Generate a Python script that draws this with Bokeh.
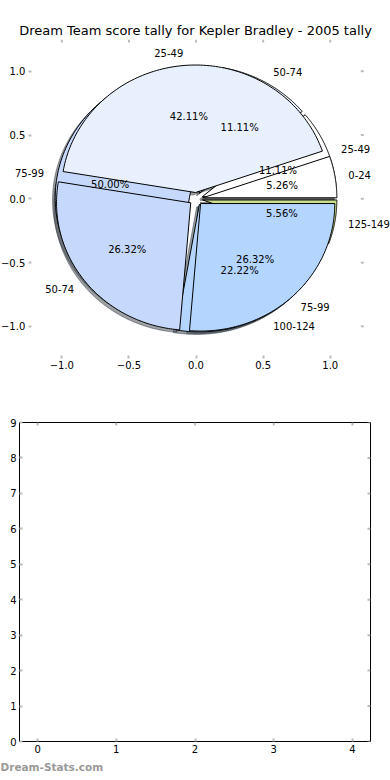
import numpy as np
from bokeh.plotting import figure
from bokeh.models import Range1d, LinearAxis, FixedTicker, LabelSet, ColumnDataSource, Title
from bokeh.embed import file_html
from bokeh.resources import INLINE
from bokeh.core.properties import value

# ---------------- data ----------------
title_text = "Dream Team score tally for Kepler Bradley - 2005 tally"
watermark_text = "Dream-Stats.com"

pie_a_labels = ["0-24", "25-49", "50-74", "75-99"]
pie_a_counts = [1, 8, 5, 5]

pie_b_labels = ["25-49", "50-74", "75-99", "100-124", "125-149"]
pie_b_counts = [2, 2, 9, 4, 1]

wedge_colors = ["#ffffff", "#e8f0fe", "#c6d9fd", "#b3d5fe", "#c8e08f"]
explode = 0.05
shadow_offset = -0.02

top_ticks = [-1.0, -0.5, 0.0, 0.5, 1.0]
top_tick_labels = ["\u22121.0", "\u22120.5", "0.0", "0.5", "1.0"]
pie_axes_limits = (-1.25, 1.25)          # the pie's axes box
top_x_range = (-1.457, 1.449)            # visible canvas span (labels overflow the axes box)
top_y_range = (-1.503, 1.25)

bottom_x_ticks = [0, 1, 2, 3, 4]
bottom_y_ticks = [0, 1, 2, 3, 4, 5, 6, 7, 8, 9]
bottom_x_range = (-0.23, 4.23)
bottom_y_range = (0, 9)

FONT = "DejaVu Sans"
TICK_COLOR = "#bbbbbb"


def pie_geometry(counts, expl, n=120):
    total = float(sum(counts))
    t1 = 0.0
    res = []
    for i, c in enumerate(counts):
        frac = c / total
        t2 = t1 + 360.0 * frac
        tm = np.deg2rad((t1 + t2) / 2.0)
        cx, cy = expl * np.cos(tm), expl * np.sin(tm)
        ang = np.deg2rad(np.linspace(t1, t2, n))
        xs = [cx] + list(cx + np.cos(ang)) + [cx]
        ys = [cy] + list(cy + np.sin(ang)) + [cy]
        res.append(dict(xs=xs, ys=ys, cx=cx, cy=cy, tm=tm, frac=frac, color=wedge_colors[i]))
        t1 = t2
    return res


def shadow_color(hexcol):
    r, g, b = (int(hexcol[k:k + 2], 16) for k in (1, 3, 5))
    return "#%02x%02x%02x" % (int(0.3 * r), int(0.3 * g), int(0.3 * b))


def make_axis(ticks, overrides=None, standoff=4):
    ax = LinearAxis(ticker=FixedTicker(ticks=ticks))
    ax.axis_line_color = None
    ax.major_tick_in = 3
    ax.major_tick_out = 0
    ax.major_tick_line_color = TICK_COLOR
    ax.major_tick_line_width = 2
    ax.minor_tick_line_color = None
    ax.major_label_text_font = FONT
    ax.major_label_text_font_size = "10px"
    ax.major_label_text_color = "black"
    ax.major_label_standoff = standoff
    if overrides is not None:
        ax.major_label_overrides = dict(zip(ticks, overrides))
    return ax


def inner_ticks(p, xs, ys, angle):
    p.ray(x=xs, y=ys, length=3, length_units="screen", angle=angle,
          line_color=TICK_COLOR, line_width=2)


# ---------------- top figure: two overlapping pies ----------------
p1 = figure(width=390, height=390, output_backend="svg", toolbar_location=None,
            x_range=Range1d(*top_x_range), y_range=Range1d(*top_y_range),
            x_axis_location=None, y_axis_location=None,
            min_border_left=0, min_border_right=0, min_border_top=39, min_border_bottom=0,
            title=title_text)
p1.grid.visible = False
p1.outline_line_color = None
p1.title.text_font = FONT
p1.title.text_font_size = "13px"
p1.title.text_font_style = "normal"
p1.title.text_color = "black"
p1.title.align = "center"
p1.title.standoff = 3

ax_l = make_axis(top_ticks, top_tick_labels, standoff=3)
ax_l.fixed_location = pie_axes_limits[0]
p1.add_layout(ax_l, "left")
ax_b = make_axis(top_ticks, top_tick_labels, standoff=3)
ax_b.fixed_location = pie_axes_limits[0]
p1.add_layout(ax_b, "below")
inner_ticks(p1, top_ticks, [pie_axes_limits[1]] * len(top_ticks), -np.pi / 2)
inner_ticks(p1, [pie_axes_limits[1]] * len(top_ticks), top_ticks, np.pi)

geo_a = pie_geometry(pie_a_counts, explode)
geo_b = pie_geometry(pie_b_counts, explode)

# shadows (below all wedges)
sh = dict(xs=[], ys=[], color=[])
for g in geo_b + geo_a:
    sh["xs"].append([x + shadow_offset for x in g["xs"]])
    sh["ys"].append([y + shadow_offset for y in g["ys"]])
    sh["color"].append(shadow_color(g["color"]))
p1.patches(xs="xs", ys="ys", source=ColumnDataSource(sh), fill_color="color", fill_alpha=0.5,
           line_color="color", line_alpha=0.5, line_width=1)

# wedges: pie B first, pie A on top
for geo in (geo_b, geo_a):
    src = ColumnDataSource(dict(xs=[g["xs"] for g in geo], ys=[g["ys"] for g in geo],
                                color=[g["color"] for g in geo]))
    p1.patches(xs="xs", ys="ys", source=src, fill_color="color", line_color="black", line_width=1)

# texts
groups = {"left": dict(x=[], y=[], text=[]), "right": dict(x=[], y=[], text=[]),
          "center": dict(x=[], y=[], text=[])}
for geo, labels in ((geo_b, pie_b_labels), (geo_a, pie_a_labels)):
    for g, lab in zip(geo, labels):
        xt = g["cx"] + 1.1 * np.cos(g["tm"])
        yt = g["cy"] + 1.1 * np.sin(g["tm"])
        d = groups["left" if xt > 0 else "right"]
        d["x"].append(xt); d["y"].append(yt); d["text"].append(lab)
        d = groups["center"]
        d["x"].append(g["cx"] + 0.6 * np.cos(g["tm"]))
        d["y"].append(g["cy"] + 0.6 * np.sin(g["tm"]))
        d["text"].append("%.2f%%" % (100 * g["frac"]))
for align, d in groups.items():
    p1.add_layout(LabelSet(x="x", y="y", text="text", source=ColumnDataSource(d),
                           text_align=align, text_baseline="middle", text_font=value(FONT),
                           text_font_size=value("10px"), text_color="black"))

# ---------------- bottom figure: empty axes ----------------
p2 = figure(width=390, height=390, output_backend="svg", toolbar_location=None,
            x_range=Range1d(*bottom_x_range), y_range=Range1d(*bottom_y_range),
            x_axis_location=None, y_axis_location=None,
            min_border_left=19, min_border_right=20, min_border_top=32, min_border_bottom=39)
p2.grid.visible = False
p2.outline_line_color = "black"
p2.outline_line_width = 1

p2.add_layout(make_axis(bottom_y_ticks, standoff=3), "left")
p2.add_layout(make_axis(bottom_x_ticks, standoff=3), "below")
inner_ticks(p2, bottom_x_ticks, [bottom_y_range[1]] * len(bottom_x_ticks), -np.pi / 2)
inner_ticks(p2, [bottom_x_range[1]] * len(bottom_y_ticks), bottom_y_ticks, np.pi)

wm = Title(text=watermark_text, align="left", offset=-19, standoff=6,
           text_font=FONT, text_font_size="10.5px", text_font_style="bold",
           text_color="#999999")
p2.add_layout(wm, "below")

# two independent roots (no frame alignment between them)
open("out.html", "w").write(file_html([p1, p2], INLINE, title="Dream Team score tally"))
